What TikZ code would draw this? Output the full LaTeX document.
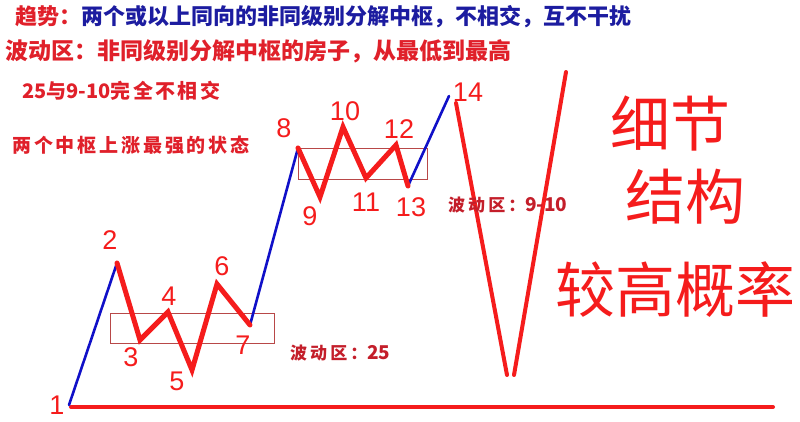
\documentclass[tikz,border=0pt]{standalone}
\usepackage{fontspec}
\setmainfont{Noto Sans CJK SC}
\newfontfamily\hand{Liberation Sans}
\definecolor{tred}{HTML}{E0202A}
\definecolor{tblue}{HTML}{1C1CA0}
\definecolor{dred}{HTML}{C41E2A}
\definecolor{lred}{HTML}{F51C1C}
\definecolor{lblue}{HTML}{1010C8}
\definecolor{boxred}{HTML}{B84848}
\newcommand{\spc}[2]{{\addfontfeature{LetterSpace=#1}#2}}
\tikzset{
  txt/.style={inner sep=0pt, anchor=west, font=\bfseries},
  num/.style={inner sep=0pt, text=lred, font=\hand\fontsize{27}{27}\selectfont},
  big/.style={inner sep=0pt, text=lred, font=\fontsize{60}{60}\selectfont},
  zig/.style={draw=lred, line width=5pt, line join=miter, line cap=round},
  up/.style={draw=lblue, line width=2.6pt, line cap=round},
  vline/.style={draw=lred, line width=4pt, line cap=round},
  zone/.style={draw=boxred, line width=1pt}
}
\begin{document}
\begin{tikzpicture}[x=1pt,y=-1pt]
\useasboundingbox (0,0) rectangle (800,421);
\fill[white] (0,0) rectangle (800,421);
% header texts
\node[txt, font=\bfseries\fontsize{22}{22}\selectfont] (t1) at (15,17) {\color{tred}趋势：\color{tblue}两个或以上同向的非同级别分解中枢，不相交，互不干扰};
\node[txt, text=tred, font=\bfseries\fontsize{23}{23}\selectfont] (t2) at (5,51) {波动区：非同级别分解中枢的房子，从最低到最高};
\node[txt, text=tred, font=\bfseries\fontsize{20}{20}\selectfont] (t3) at (22,91) {25\spc{12}{与}9-10\spc{12}{完全不相交}};
\node[txt, text=tred, font=\bfseries\fontsize{19}{19}\selectfont\addfontfeature{LetterSpace=15}] (t4) at (12,145) {两个中枢上涨最强的状态};
% wave points
\coordinate (p1) at (69,405);
\coordinate (p2) at (117,263);
\coordinate (p3) at (140,340);
\coordinate (p4) at (168,312);
\coordinate (p5) at (192,370);
\coordinate (p6) at (217,284);
\coordinate (p7) at (250,325);
\coordinate (p8) at (298,148);
\coordinate (p9) at (320,197);
\coordinate (p10) at (343,127);
\coordinate (p11) at (366,178);
\coordinate (p12) at (396,145);
\coordinate (p13) at (408,186);
\coordinate (p14) at (449,96);
\coordinate (b1) at (71,407);
\coordinate (b2) at (773,407);
% zones
\draw[zone] (110,313) rectangle (274,343);
\draw[zone] (298,148) rectangle (427,179);
% baseline
\draw[vline] (b1) -- (b2);
% blue up legs
\draw[up] (p1) -- (p2);
\draw[up] (p7) -- (p8);
\draw[up] (p13) -- (p14);
% red zigzags
\draw[zig] (p2) -- (p3) -- (p4) -- (p5) -- (p6) -- (p7);
\draw[zig] (p8) -- (p9) -- (p10) -- (p11) -- (p12) -- (p13);
% big V
\coordinate (v1) at (456,103);
\coordinate (v2) at (507,375);
\coordinate (v3) at (514,375);
\coordinate (v4) at (566,72);
\draw[vline] (v1) -- (v2);
\draw[vline] (v3) -- (v4);
% zone labels
\node[txt, text=dred, font=\bfseries\fontsize{17}{17}\selectfont] (z1) at (290,353) {\spc{18}{波动区：}{\fontsize{19}{19}\selectfont 25}};
\node[txt, text=dred, font=\bfseries\fontsize{17}{17}\selectfont] (z2) at (448,205) {\spc{18}{波动区：}{\fontsize{19}{19}\selectfont 9-10}};
% number labels
\node[num] (n1) at (57,405) {1};
\node[num] (n2) at (110,240) {2};
\node[num] (n3) at (131,357) {3};
\node[num] (n4) at (169,296) {4};
\node[num] (n5) at (177,381) {5};
\node[num] (n6) at (222,266) {6};
\node[num] (n7) at (243,345) {7};
\node[num] (n8) at (284,128) {8};
\node[num] (n9) at (310,216) {9};
\node[num] (n10) at (345,111) {10};
\node[num] (n11) at (366,202) {11};
\node[num] (n12) at (399,129) {12};
\node[num] (n13) at (411,207) {13};
\node[num] (n14) at (468,92) {14};
% handwritten notes
\node[big] (h1) at (670,124) {细节};
\node[big] (h2) at (685,197) {结构};
\node[big] (h3) at (675,290) {较高概率};
\end{tikzpicture}
\end{document}
